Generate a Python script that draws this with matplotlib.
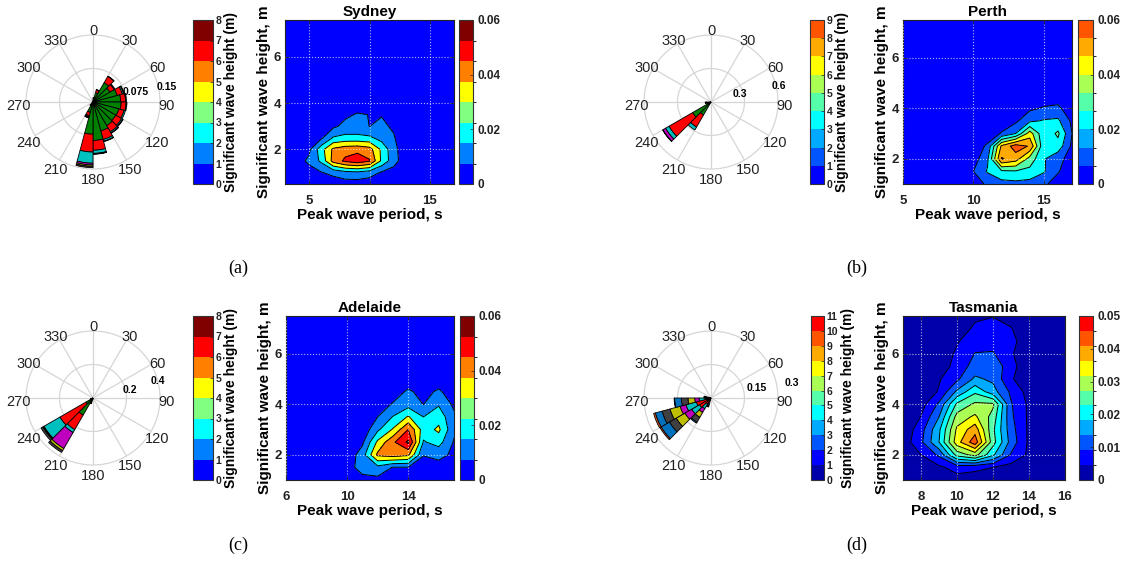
import numpy as np
import matplotlib
matplotlib.use("Agg")
import matplotlib.pyplot as plt
import matplotlib.transforms as mtransforms
from matplotlib.colors import ListedColormap, BoundaryNorm
from matplotlib.cm import ScalarMappable

plt.rcParams["font.family"] = ["Liberation Sans", "DejaVu Sans"]
plt.rcParams["font.weight"] = "bold"

# ------------------------------------------------------------------ data
# colours of the wave-height classes in the roses (0-1 m, 1-2 m, ...)
HS_CLASS_COLORS = ["#0000ff", "#008000", "#ff0000", "#00bfbf", "#bf00bf",
                   "#bfbf00", "#404040", "#0072bd", "#d95319", "#edb120",
                   "#7e2f8e"]

# wave roses: 15-degree sectors (start bearing), frequency per Hs class
SYD_SECTORS = [0, 15, 30, 45, 60, 75, 90, 105, 120, 135, 150, 165, 180,
               195, 210, 225, 270, 315]
SYD_FREQ = [
    [0.003, 0.006, 0.001],
    [0.004, 0.018, 0.006, 0.001],
    [0.004, 0.046, 0.016, 0.001],
    [0.004, 0.040, 0.011, 0.002],
    [0.004, 0.052, 0.012, 0.003, 0.001],
    [0.004, 0.058, 0.011, 0.002],
    [0.005, 0.058, 0.011, 0.002],
    [0.005, 0.055, 0.012, 0.003],
    [0.005, 0.054, 0.015, 0.003, 0.001],
    [0.005, 0.056, 0.016, 0.003, 0.001],
    [0.005, 0.062, 0.020, 0.004, 0.001],
    [0.006, 0.080, 0.022, 0.007, 0.001, 0.000, 0.001],
    [0.006, 0.066, 0.040, 0.025, 0.004, 0.003, 0.003],
    [0.004, 0.020, 0.008, 0.002, 0.002, 0.000, 0.001],
    [0.002, 0.006, 0.002],
    [0.001, 0.002],
    [0.001, 0.001],
    [0.001, 0.001],
]

PER_SECTORS = [195, 210, 225, 240, 255, 270]
PER_FREQ = [
    [0.002, 0.004],
    [0.004, 0.130, 0.125, 0.030],
    [0.005, 0.185, 0.245, 0.035, 0.028, 0.002],
    [0.004, 0.020, 0.006, 0.004],
    [0.008, 0.030, 0.008, 0.006],
    [0.002, 0.004],
]

ADL_SECTORS = [180, 195, 210, 225, 240]
ADL_FREQ = [
    [0.004, 0.006],
    [0.010, 0.020, 0.006],
    [0.008, 0.110, 0.100, 0.020, 0.110, 0.015, 0.012],
    [0.008, 0.040, 0.180, 0.110, 0.003, 0.005, 0.012],
    [0.004, 0.008, 0.004],
]

TAS_SECTORS = [195, 210, 225, 240, 255, 270, 285]
TAS_FREQ = [
    [0.001, 0.004, 0.015, 0.010, 0.006, 0.004, 0.002],
    [0.002, 0.006, 0.022, 0.025, 0.020, 0.025, 0.025, 0.005],
    [0.002, 0.008, 0.050, 0.040, 0.035, 0.045, 0.035, 0.043, 0.006],
    [0.002, 0.008, 0.058, 0.048, 0.027, 0.047, 0.037, 0.031, 0.008],
    [0.002, 0.006, 0.015, 0.030, 0.020, 0.030, 0.030, 0.030, 0.002],
    [0.002, 0.005, 0.015, 0.005, 0.003, 0.002],
    [0.001, 0.002, 0.004],
]

# joint probability of peak period (s) and significant wave height (m)
SYD_TP = [4, 5, 6, 7, 8, 9, 10, 11, 12, 13]
SYD_HS = [0.5, 1.0, 1.5, 2.0, 2.5, 3.0, 3.5, 4.0]
SYD_P = [
    [0.000, 0.001, 0.003, 0.004, 0.005, 0.005, 0.004, 0.003, 0.002, 0.000],
    [0.002, 0.006, 0.0095, 0.013, 0.017, 0.018, 0.015, 0.009, 0.006, 0.002],
    [0.006, 0.012, 0.022, 0.044, 0.052, 0.056, 0.051, 0.028, 0.014, 0.004],
    [0.003, 0.008, 0.026, 0.042, 0.046, 0.047, 0.044, 0.028, 0.013, 0.004],
    [0.001, 0.005, 0.008, 0.021, 0.023, 0.023, 0.022, 0.016, 0.011, 0.002],
    [0.000, 0.002, 0.005, 0.008, 0.013, 0.013, 0.0099, 0.012, 0.0085, 0.001],
    [0.000, 0.000, 0.002, 0.005, 0.008, 0.011, 0.0098, 0.0095, 0.004, 0.000],
    [0.000, 0.000, 0.000, 0.002, 0.004, 0.004, 0.004, 0.002, 0.000, 0.000],
]

PER_TP = [9, 10, 11, 12, 13, 14, 15, 16, 17]
PER_HS = [1.0, 1.5, 2.0, 2.5, 3.0, 3.5, 4.0, 4.5]
PER_P = [
    [0.001, 0.004, 0.012, 0.016, 0.017, 0.016, 0.012, 0.005, 0.001],
    [0.001, 0.010, 0.021, 0.028, 0.029, 0.027, 0.021, 0.011, 0.003],
    [0.000, 0.005, 0.018, 0.061, 0.055, 0.036, 0.021, 0.013, 0.006],
    [0.000, 0.003, 0.012, 0.052, 0.065, 0.059, 0.022, 0.026, 0.008],
    [0.000, 0.000, 0.003, 0.011, 0.020, 0.045, 0.022, 0.032, 0.010],
    [0.000, 0.000, 0.000, 0.003, 0.008, 0.018, 0.021, 0.022, 0.008],
    [0.000, 0.000, 0.000, 0.000, 0.003, 0.008, 0.011, 0.012, 0.004],
    [0.000, 0.000, 0.000, 0.000, 0.000, 0.002, 0.004, 0.005, 0.001],
]

ADL_TP = [9, 10, 11, 12, 13, 14, 15, 16, 17]
ADL_HS = [1.0, 1.5, 2.0, 2.5, 3.0, 3.5, 4.0, 4.5, 5.0]
ADL_P = [
    [0.000, 0.002, 0.006, 0.007, 0.005, 0.004, 0.003, 0.003, 0.001],
    [0.001, 0.005, 0.015, 0.017, 0.0095, 0.0095, 0.005, 0.006, 0.003],
    [0.000, 0.003, 0.015, 0.042, 0.045, 0.042, 0.0105, 0.013, 0.008],
    [0.000, 0.001, 0.008, 0.032, 0.048, 0.062, 0.019, 0.024, 0.009],
    [0.000, 0.000, 0.003, 0.018, 0.031, 0.050, 0.025, 0.032, 0.012],
    [0.000, 0.000, 0.001, 0.010, 0.0205, 0.031, 0.020, 0.026, 0.012],
    [0.000, 0.000, 0.000, 0.004, 0.011, 0.016, 0.0098, 0.019, 0.008],
    [0.000, 0.000, 0.000, 0.001, 0.004, 0.012, 0.006, 0.012, 0.003],
    [0.000, 0.000, 0.000, 0.000, 0.001, 0.003, 0.001, 0.003, 0.000],
]

TAS_TP = [7, 8, 9, 10, 11, 12, 13, 14, 15, 16]
TAS_HS = [1.0, 1.5, 2.0, 2.5, 3.0, 3.5, 4.0, 4.5, 5.0, 5.5, 6.0, 6.5, 7.0, 7.5]
TAS_P = [
    [0.000, 0.000, 0.001, 0.003, 0.003, 0.002, 0.001, 0.000, 0.000, 0.000],
    [0.000, 0.002, 0.004, 0.007, 0.006, 0.005, 0.003, 0.001, 0.000, 0.000],
    [0.001, 0.005, 0.011, 0.027, 0.032, 0.021, 0.0095, 0.004, 0.000, 0.000],
    [0.002, 0.009, 0.020, 0.038, 0.048, 0.027, 0.013, 0.004, 0.000, 0.000],
    [0.001, 0.008, 0.019, 0.036, 0.043, 0.026, 0.012, 0.004, 0.000, 0.000],
    [0.000, 0.0052, 0.015, 0.032, 0.036, 0.028, 0.011, 0.004, 0.000, 0.000],
    [0.000, 0.003, 0.011, 0.026, 0.031, 0.031, 0.0105, 0.004, 0.000, 0.000],
    [0.000, 0.001, 0.0055, 0.016, 0.024, 0.017, 0.009, 0.003, 0.000, 0.000],
    [0.000, 0.000, 0.0045, 0.009, 0.016, 0.014, 0.0055, 0.002, 0.000, 0.000],
    [0.000, 0.000, 0.002, 0.007, 0.012, 0.014, 0.0065, 0.002, 0.000, 0.000],
    [0.000, 0.000, 0.001, 0.006, 0.0102, 0.0105, 0.0055, 0.002, 0.000, 0.000],
    [0.000, 0.000, 0.000, 0.0045, 0.008, 0.008, 0.0065, 0.002, 0.000, 0.000],
    [0.000, 0.000, 0.000, 0.002, 0.006, 0.007, 0.0053, 0.001, 0.000, 0.000],
    [0.000, 0.000, 0.000, 0.001, 0.004, 0.0048, 0.003, 0.000, 0.000, 0.000],
]

# contour levels and colour-bar ranges
LEVELS_006 = [0.0, 0.01, 0.02, 0.03, 0.04, 0.05, 0.06]
LEVELS_TAS = [0.0, 0.005, 0.01, 0.015, 0.02, 0.025, 0.03, 0.035, 0.04, 0.045]
TICKS_006 = [0.0, 0.02, 0.04, 0.06]
TICKLABELS_006 = ["0", "0.02", "0.04", "0.06"]
TICKS_TAS = [0.0, 0.01, 0.02, 0.03, 0.04, 0.05]
TICKLABELS_TAS = ["0", "0.01", "0.02", "0.03", "0.04", "0.05"]


# ------------------------------------------------------------------ helpers
W, H = 1130, 563
GRID_GRAY = "#d6d6d6"


def jet(m):
    """MATLAB-style jet colormap with m entries."""
    n = int(np.ceil(m / 4))
    u = np.concatenate([np.arange(1, n + 1) / n, np.ones(n - 1),
                        np.arange(n, 0, -1) / n])
    g = int(np.ceil(n / 2)) - (1 if m % 4 == 1 else 0) + np.arange(1, len(u) + 1)
    r = g + n
    b = g - n
    g = g[g <= m]
    r = r[r <= m]
    b = b[b >= 1]
    J = np.zeros((m, 3))
    J[r - 1, 0] = u[:len(r)]
    J[g - 1, 1] = u[:len(g)]
    J[b - 1, 2] = u[len(u) - len(b):]
    return J


def px_box(l, t, w, h):
    return [l / W, 1 - (t + h) / H, w / W, h / H]


def draw_rose(fig, center, R, sectors, freq, rmax, ring_labels, ring_pos):
    cx, cy = center
    ax = fig.add_axes(px_box(cx - R, cy - R, 2 * R, 2 * R), projection="polar")
    ax.set_theta_zero_location("N")
    ax.set_theta_direction(-1)
    ax.grid(False)
    ax.set_xticks([])
    ax.set_yticks([])
    ax.spines["polar"].set_edgecolor(GRID_GRAY)
    ax.spines["polar"].set_linewidth(0.9)
    th = np.linspace(0, 2 * np.pi, 361)
    ax.plot(th, np.full_like(th, rmax / 2), color=GRID_GRAY, lw=0.9, zorder=1)
    for a in range(0, 360, 30):
        ax.plot([np.radians(a)] * 2, [0, rmax], color=GRID_GRAY, lw=0.9, zorder=1)
    width = np.radians(15)
    for s, f in zip(sectors, freq):
        bottom = 0.0
        for k, v in enumerate(f):
            if v <= 0:
                continue
            ax.bar(np.radians(s + 7.5), v, width=width, bottom=bottom,
                   color=HS_CLASS_COLORS[k], edgecolor="black", linewidth=0.6,
                   zorder=3)
            bottom += v
    ax.set_ylim(0, rmax)
    shift = mtransforms.ScaledTranslation(0, -3.5 / 100, fig.dpi_scale_trans)
    for a in range(0, 360, 30):
        ax.text(np.radians(a), rmax * 1.105, str(a), ha="center", va="center",
                fontsize=10.5, fontweight="normal", color="#222222",
                clip_on=False, transform=ax.transData + shift)
    for lab, (dx, dy) in zip(ring_labels, ring_pos):
        ax.text(0.5 + dx / (2 * R), 0.5 - dy / (2 * R), lab,
                transform=ax.transAxes, ha="center", va="center",
                fontsize=7.5, fontweight="bold", clip_on=False)
    return ax


def draw_cbar(fig, box, colors, vmax, ticks, ticklabels, fs, pad, label=None):
    cax = fig.add_axes(px_box(*box))
    n = len(colors)
    bounds = np.linspace(0, vmax, n + 1)
    sm = ScalarMappable(norm=BoundaryNorm(bounds, n), cmap=ListedColormap(colors))
    cb = fig.colorbar(sm, cax=cax, boundaries=bounds, ticks=ticks)
    cb.set_ticklabels(ticklabels)
    cb.outline.set_linewidth(0.8)
    cb.outline.set_edgecolor("#333333")
    cax.tick_params(direction="in", length=2, width=0.5, labelsize=fs, pad=pad,
                    colors="#222222")
    if label:
        cb.set_label(label, fontsize=10, fontweight="bold", labelpad=2)
    return cb


def draw_contour(fig, box, tp, hs, p, levels, colors, vmax, title,
                 xlim, ylim, xticks):
    ax = fig.add_axes(px_box(*box))
    n = len(colors)

    def level_color(v):
        idx = min(int(np.floor(v / vmax * n + 1e-9)), n - 1)
        return colors[idx]

    fill_colors = [level_color(v) for v in levels]
    ax.set_facecolor(fill_colors[0])
    lv = list(levels) + [1.0]
    ax.contourf(tp, hs, np.array(p), levels=lv, colors=fill_colors, zorder=1)
    ax.contour(tp, hs, np.array(p), levels=levels[1:], colors="black",
               linewidths=0.7, zorder=2)
    ax.set_xlim(*xlim)
    ax.set_ylim(*ylim)
    ax.set_xticks(xticks)
    ax.set_yticks([2, 4, 6])
    ax.set_axisbelow(False)
    ax.grid(True, color="white", linestyle=":", linewidth=0.8, alpha=0.7)
    ax.tick_params(direction="in", length=3, width=0.6, labelsize=9.5,
                   top=True, right=True, colors="#222222")
    ax.tick_params(axis="x", pad=8)
    ax.tick_params(axis="y", pad=3)
    for sp in ax.spines.values():
        sp.set_linewidth(0.8)
        sp.set_edgecolor("#222222")
    ax.set_title(title, fontsize=11, fontweight="bold", pad=3)
    ax.set_xlabel("Peak wave period, s", fontsize=11, fontweight="bold",
                  labelpad=1)
    ax.set_ylabel("Significant wave height, m", fontsize=11,
                  fontweight="bold", labelpad=2)
    return ax


# ------------------------------------------------------------------ figure
fig = plt.figure(figsize=(W / 100, H / 100), dpi=100)
fig.patch.set_facecolor("white")

R = 67
panels = [
    dict(title="Sydney", tag="(a)", tag_xy=(238, 268),
         rose_c=(93, 102), sectors=SYD_SECTORS, freq=SYD_FREQ, rmax=0.15,
         ring_labels=["0.075", "0.15"], ring_pos=[(43, -10), (74, -15)],
         cb1=(193, 20, 20, 164), ncls=8,
         cont=(285, 20, 169, 164), tp=SYD_TP, hs=SYD_HS, p=SYD_P,
         levels=LEVELS_006, vmax=0.06, ticks=TICKS_006, tlab=TICKLABELS_006,
         xlim=(3, 17), ylim=(0.5, 7.6), xticks=[5, 10, 15],
         cb2=(459, 20, 14, 164)),
    dict(title="Perth", tag="(b)", tag_xy=(857, 268),
         rose_c=(711, 102), sectors=PER_SECTORS, freq=PER_FREQ, rmax=0.6,
         ring_labels=["0.3", "0.6"], ring_pos=[(29, -8), (68, -16)],
         cb1=(810, 20, 14, 164), ncls=9,
         cont=(903, 20, 169, 164), tp=PER_TP, hs=PER_HS, p=PER_P,
         levels=LEVELS_006, vmax=0.06, ticks=TICKS_006, tlab=TICKLABELS_006,
         xlim=(5, 17), ylim=(1, 7.5), xticks=[5, 10, 15],
         cb2=(1078, 20, 15, 164)),
    dict(title="Adelaide", tag="(c)", tag_xy=(238, 545),
         rose_c=(93, 398), sectors=ADL_SECTORS, freq=ADL_FREQ, rmax=0.4,
         ring_labels=["0.2", "0.4"], ring_pos=[(37, -8), (65, -17)],
         cb1=(193, 316, 20, 164), ncls=8,
         cont=(286, 316, 168, 164), tp=ADL_TP, hs=ADL_HS, p=ADL_P,
         levels=LEVELS_006, vmax=0.06, ticks=TICKS_006, tlab=TICKLABELS_006,
         xlim=(6, 17), ylim=(1, 7.5), xticks=[6, 10, 14],
         cb2=(460, 316, 14, 164)),
    dict(title="Tasmania", tag="(d)", tag_xy=(857, 545),
         rose_c=(711, 398), sectors=TAS_SECTORS, freq=TAS_FREQ, rmax=0.3,
         ring_labels=["0.15", "0.3"], ring_pos=[(46, -10), (81, -15)],
         cb1=(811, 316, 13, 164), ncls=11,
         cont=(903, 316, 162, 164), tp=TAS_TP, hs=TAS_HS, p=TAS_P,
         levels=LEVELS_TAS, vmax=0.05, ticks=TICKS_TAS, tlab=TICKLABELS_TAS,
         xlim=(7, 16), ylim=(1, 7.5), xticks=[8, 10, 12, 14, 16],
         cb2=(1079, 316, 14, 164)),
]

for pn in panels:
    cmap_colors = jet(pn["ncls"])
    draw_rose(fig, pn["rose_c"], R, pn["sectors"], pn["freq"], pn["rmax"],
              pn["ring_labels"], pn["ring_pos"])
    n = pn["ncls"]
    draw_cbar(fig, pn["cb1"], cmap_colors, n, list(range(n + 1)),
              [str(i) for i in range(n + 1)], 7.5, 2,
              label="Significant wave height (m)")
    draw_contour(fig, pn["cont"], pn["tp"], pn["hs"], pn["p"], pn["levels"],
                 cmap_colors, pn["vmax"], pn["title"], pn["xlim"], pn["ylim"],
                 pn["xticks"])
    draw_cbar(fig, pn["cb2"], cmap_colors, pn["vmax"], pn["ticks"], pn["tlab"],
              8.5, 3.5)
    tx, ty = pn["tag_xy"]
    fig.text(tx / W, 1 - ty / H, pn["tag"], ha="center", va="center",
             fontsize=13, fontweight="normal",
             fontfamily=["Liberation Serif", "DejaVu Serif"])

fig.savefig("out.png", dpi=100, facecolor="white")
